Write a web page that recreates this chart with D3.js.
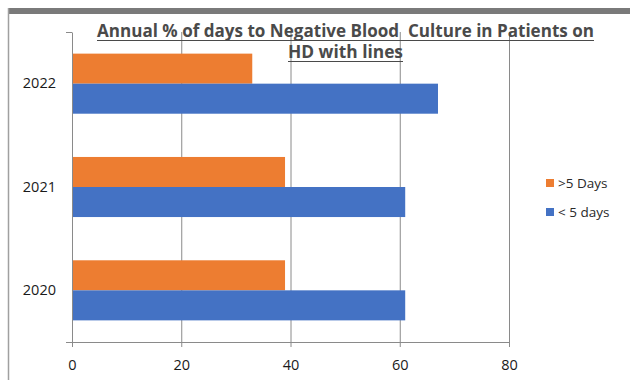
<!DOCTYPE html>
<html><head><meta charset="utf-8">
<script src="https://cdn.jsdelivr.net/npm/d3@7"></script>
<style>body{margin:0;background:#fff}svg{display:block}</style>
</head><body>
<script>
const categories = ["2022", "2021", "2020"];
const seriesNames = [">5 Days", "< 5 days"];
const over5 = [33, 39, 39];
const under5 = [67, 61, 61];
const xTicks = [0, 20, 40, 60, 80];
const colors = ["#ED7D31", "#4472C4"];

const W = 630, H = 380;
const svg = d3.select("body").append("svg").attr("width", W).attr("height", H);
const font = "'Open Sans', 'Liberation Sans', sans-serif";

// frame pieces
svg.append("rect").attr("x", 8).attr("y", 8).attr("width", W - 8).attr("height", 6).attr("fill", "#7a7a7a");
svg.append("line").attr("x1", 8.5).attr("x2", 8.5).attr("y1", 8).attr("y2", H).attr("stroke", "#a0a0a0").attr("stroke-width", 1.5);

const x = d3.scaleLinear().domain([0, 80]).range([72, 509]);
const y = d3.scaleBand().domain(categories).range([32, 342]);
const inner = d3.scaleBand().domain(seriesNames).range([0, y.bandwidth()]).paddingOuter(0.72).paddingInner(0);

// gridlines
svg.append("g").selectAll("line").data(xTicks.slice(1)).join("line")
  .attr("x1", d => x(d) + 0.5).attr("x2", d => x(d) + 0.5)
  .attr("y1", 32).attr("y2", 342).attr("stroke", "#8a8a8a").attr("stroke-width", 1);

// bars
const rows = categories.map((c, i) => ({c, vals: [over5[i], under5[i]]}));
const g = svg.append("g");
rows.forEach(r => {
  r.vals.forEach((v, j) => {
    g.append("rect").attr("x", x(0)).attr("y", y(r.c) + inner(seriesNames[j]))
      .attr("width", x(v) - x(0)).attr("height", inner.bandwidth()).attr("fill", colors[j]);
  });
});

// y axis
const yAxis = d3.axisLeft(y).tickSize(0).tickPadding(16);
const ya = svg.append("g").attr("transform", "translate(72,0)").call(yAxis);
ya.select(".domain").attr("stroke", "#8a8a8a");
ya.selectAll("text").attr("font-family", font).attr("font-size", 14.5).attr("fill", "#1a1a1a");
// category boundary ticks
svg.append("g").selectAll("line").data([32, 342]).join("line")
  .attr("x1", 66).attr("x2", 72).attr("y1", d => d + 0.5).attr("y2", d => d + 0.5).attr("stroke", "#8a8a8a");

// x axis
const xAxis = d3.axisBottom(x).tickValues(xTicks).tickSize(5).tickPadding(13).tickFormat(d3.format("d"));
const xa = svg.append("g").attr("transform", "translate(0,342)").call(xAxis);
xa.select(".domain").attr("stroke", "#8a8a8a");
xa.selectAll(".tick line").attr("stroke", "#8a8a8a");
xa.selectAll("text").attr("font-family", font).attr("font-size", 14.5).attr("fill", "#1a1a1a");

// title
const titleLines = ["Annual % of days to Negative Blood  Culture in Patients on", "HD with lines"];
const tpos = [{x: 97, y: 37, w: 497}, {x: 288, y: 58, w: 115}];
titleLines.forEach((t, i) => {
  svg.append("text").attr("x", tpos[i].x).attr("y", tpos[i].y)
    .attr("textLength", tpos[i].w).attr("lengthAdjust", "spacingAndGlyphs")
    .attr("font-family", font).attr("font-weight", "bold").attr("font-size", 17)
    .attr("fill", "#4a4a4a").style("white-space", "pre").text(t);
  svg.append("line").attr("x1", tpos[i].x).attr("x2", tpos[i].x + tpos[i].w)
    .attr("y1", tpos[i].y + 3.5).attr("y2", tpos[i].y + 3.5).attr("stroke", "#4a4a4a").attr("stroke-width", 1.2);
});

// legend
const leg = svg.append("g");
seriesNames.forEach((s, j) => {
  const ly = 183 + j * 29;
  leg.append("rect").attr("x", 546).attr("y", ly - 4).attr("width", 8).attr("height", 8).attr("fill", colors[j]);
  leg.append("text").attr("x", 558).attr("y", ly + 5).attr("font-family", font).attr("font-size", 13.5)
    .attr("fill", "#2a2a2a").text(s);
});
</script>
</body></html>
